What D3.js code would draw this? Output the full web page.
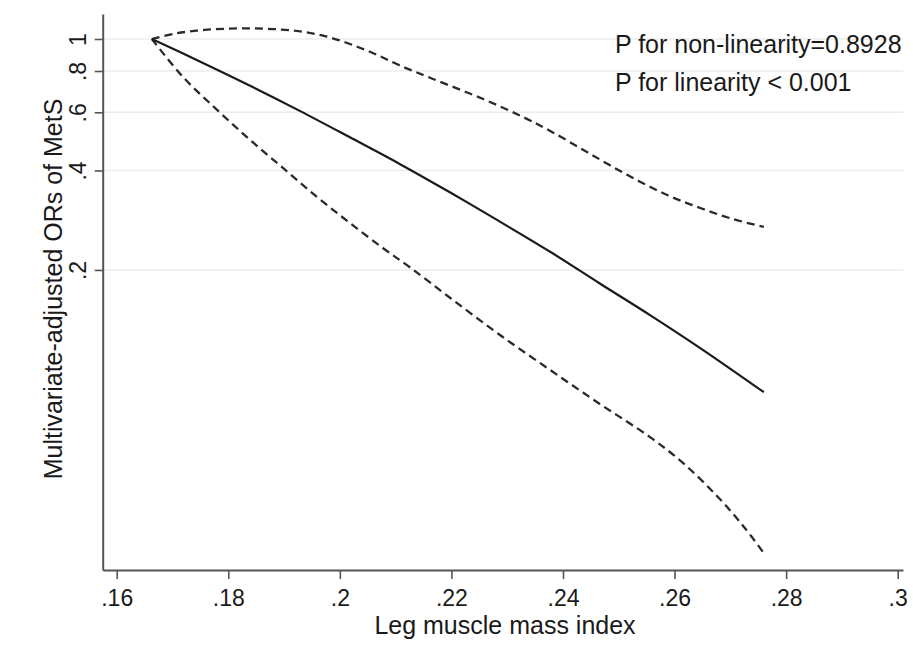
<!DOCTYPE html>
<html>
<head>
<meta charset="utf-8">
<script src="https://cdn.jsdelivr.net/npm/d3@7"></script>
<style>
  html, body { margin: 0; padding: 0; background: #fff; }
  svg text { font-family: "Liberation Sans", Arial, sans-serif; fill: #1a1a1a; }
</style>
</head>
<body>
<svg id="chart" width="913" height="659"></svg>
<script>
// ---- data ----
const xTicks = [0.16, 0.18, 0.20, 0.22, 0.24, 0.26, 0.28, 0.30];
const yTicks = [0.2, 0.4, 0.6, 0.8, 1];

// Estimated OR (solid)
const estX = [0.1663, 0.1749, 0.1839, 0.1929, 0.2018, 0.2108, 0.2198, 0.2287, 0.2377, 0.2466, 0.2556, 0.2646, 0.2760];
const estY = [1.000, 0.855, 0.722, 0.605, 0.504, 0.418, 0.343, 0.280, 0.227, 0.182, 0.146, 0.116, 0.0853];

// Upper 95% CI (dashed)
const upX = [0.1663, 0.1705, 0.1749, 0.1794, 0.1839, 0.1884, 0.1929, 0.1973, 0.2018, 0.2063, 0.2108, 0.2167, 0.2257, 0.2328, 0.2377, 0.2443, 0.2515, 0.2587, 0.2646, 0.2705, 0.2760];
const upY = [1.000, 1.039, 1.062, 1.074, 1.077, 1.071, 1.054, 1.021, 0.966, 0.901, 0.831, 0.757, 0.658, 0.581, 0.527, 0.455, 0.388, 0.337, 0.308, 0.285, 0.270];

// Lower 95% CI (dashed)
const loX = [0.1663, 0.1719, 0.1780, 0.1839, 0.1898, 0.1959, 0.2018, 0.2077, 0.2126, 0.2198, 0.2287, 0.2377, 0.2466, 0.2556, 0.2615, 0.2676, 0.2723, 0.2760];
const loY = [1.000, 0.767, 0.610, 0.495, 0.407, 0.3326, 0.2774, 0.2331, 0.2035, 0.1645, 0.1271, 0.0996, 0.0786, 0.0624, 0.0521, 0.0414, 0.0336, 0.0278];

const xTitle = "Leg muscle mass index";
const yTitle = "Multivariate-adjusted ORs of MetS";
const note1 = "P for non-linearity=0.8928";
const note2 = "P for linearity < 0.001";

// ---- layout ----
const svg = d3.select("#chart");
const pL = 102.7, pR = 903, pT = 14, pB = 570;

const x = d3.scaleLinear().domain([0.15749, 0.30095]).range([pL, pR]);
const y = d3.scaleLog().domain([0.02471, 1.1903]).range([pB, pT]);

const fmt = v => String(+v.toFixed(2)).replace(/^0\./, ".");

// gridlines
svg.append("g").selectAll("line").data(yTicks).join("line")
  .attr("x1", pL).attr("x2", pR)
  .attr("y1", d => y(d)).attr("y2", d => y(d))
  .attr("stroke", "#ececec").attr("stroke-width", 1.6);

// x axis
const gx = svg.append("g").attr("transform", `translate(0,${pB})`)
  .call(d3.axisBottom(x).tickValues(xTicks).tickFormat(fmt).tickSize(9).tickSizeOuter(0));
gx.select(".domain").attr("stroke", "#555").attr("stroke-width", 2);
gx.selectAll(".tick line").attr("stroke", "#555").attr("stroke-width", 1.6);
gx.selectAll(".tick text").attr("y", 19).attr("dy", "0.72em")
  .style("font-size", "23px").attr("fill", "#1a1a1a");

// y axis
const gy = svg.append("g").attr("transform", `translate(${pL},0)`)
  .call(d3.axisLeft(y).tickValues(yTicks).tickFormat(fmt).tickSize(8).tickSizeOuter(0));
gy.select(".domain").attr("stroke", "#555").attr("stroke-width", 2);
gy.selectAll(".tick line").attr("stroke", "#555").attr("stroke-width", 1.6);
gy.selectAll(".tick text")
  .attr("x", null).attr("dy", null).attr("y", null)
  .attr("transform", "translate(-17,0) rotate(-90)")
  .attr("text-anchor", "middle")
  .style("font-size", "23px").attr("fill", "#1a1a1a");

// axis titles
svg.append("text").attr("x", 505).attr("y", 634).attr("text-anchor", "middle")
  .style("font-size", "25px").text(xTitle);
svg.append("text").attr("transform", "translate(62,289) rotate(-90)")
  .attr("text-anchor", "middle").style("font-size", "25px").text(yTitle);

// curves
const line = d3.line().x(d => x(d[0])).y(d => y(d[1])).curve(d3.curveCatmullRom.alpha(0.5));
const zip = (a, b) => a.map((v, i) => [v, b[i]]);

svg.append("path").datum(zip(upX, upY)).attr("d", line)
  .attr("fill", "none").attr("stroke", "#2a2a2a").attr("stroke-width", 2.3)
  .attr("stroke-dasharray", "8,5");
svg.append("path").datum(zip(loX, loY)).attr("d", line)
  .attr("fill", "none").attr("stroke", "#2a2a2a").attr("stroke-width", 2.3)
  .attr("stroke-dasharray", "8,5");
svg.append("path").datum(zip(estX, estY)).attr("d", line)
  .attr("fill", "none").attr("stroke", "#1a1a1a").attr("stroke-width", 2.2);

// annotations
svg.append("text").attr("x", 615).attr("y", 53).style("font-size", "25px").text(note1);
svg.append("text").attr("x", 615).attr("y", 91).style("font-size", "25px").text(note2);
</script>
</body>
</html>
